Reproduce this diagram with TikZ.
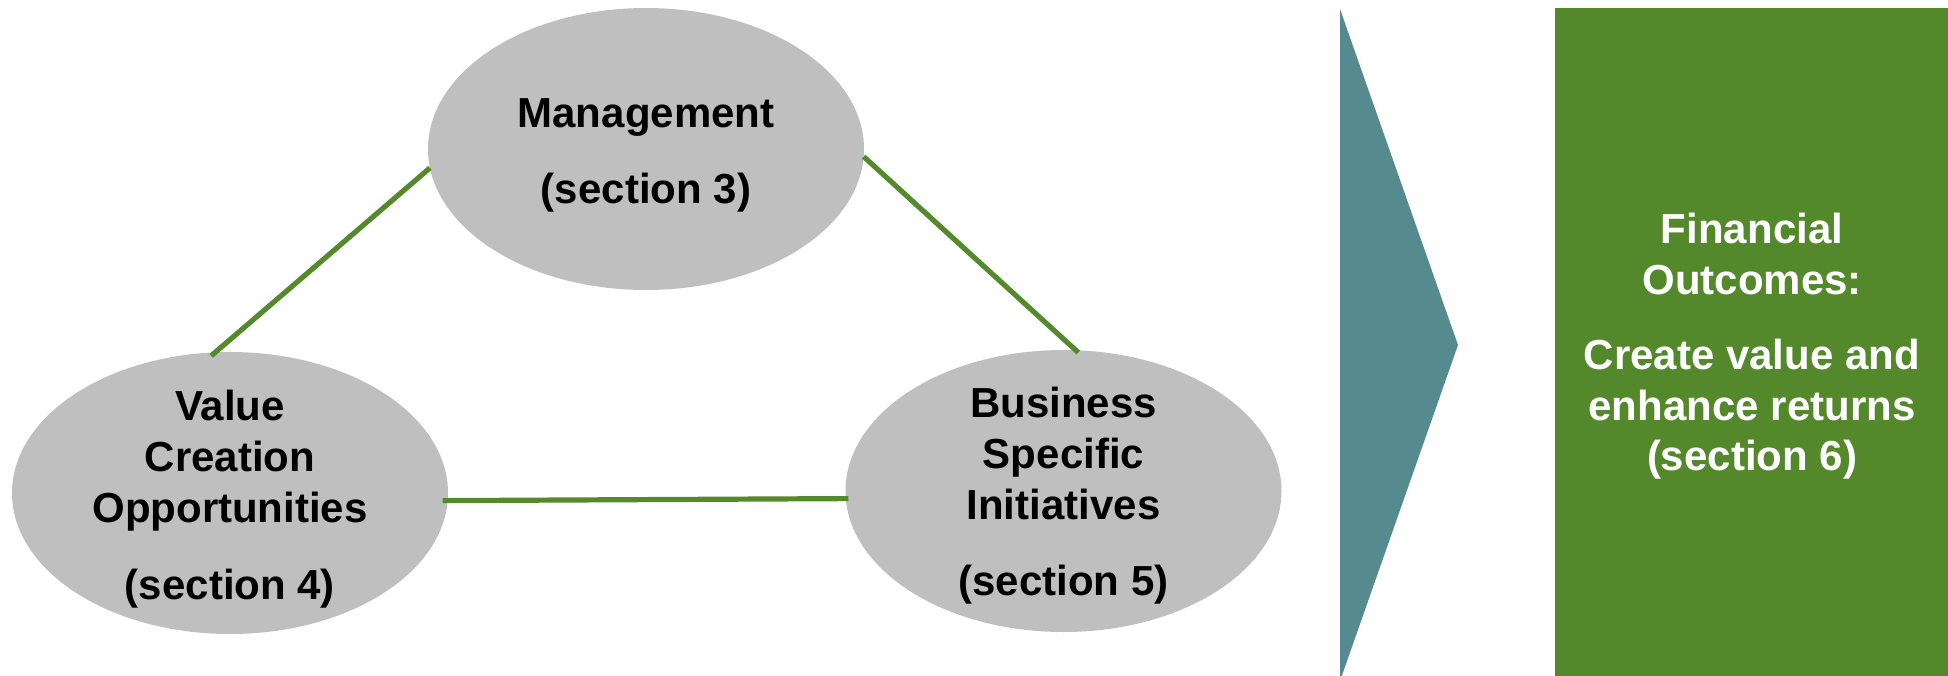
\documentclass[tikz,border=0pt]{standalone}
\usepackage{fontspec}
\setmainfont{Liberation Sans}
\usetikzlibrary{shapes.geometric}
\definecolor{ellgray}{RGB}{191,191,191}
\definecolor{linegreen}{RGB}{84,138,43}
\definecolor{boxgreen}{RGB}{83,137,43}
\definecolor{teal}{RGB}{85,139,142}
\tikzset{
  ell/.style={ellipse, fill=ellgray, draw=none, inner sep=0pt, outer sep=0pt,
              minimum width=218pt, minimum height=141pt},
  link/.style={draw=linegreen, line width=2.6pt},
  txt/.style={inner sep=0pt, anchor=base, text=black,
              font=\fontsize{21}{25}\selectfont\bfseries},
  wtxt/.style={txt, text=white}
}
\begin{document}
\begin{tikzpicture}[x=0.5pt,y=-0.5pt]
\useasboundingbox (0,0) rectangle (1948,675);
\clip (0,0) rectangle (1948,675);
% ellipses
\node[ell] (m) at (646,149) {};
\node[ell] (v) at (230,493) {};
\node[ell] (b) at (1063.5,491) {};
% connectors
\draw[link, shorten >=-2.7pt] (m.185.6) -- (v.96.6);
\draw[link, shorten >=-1.7pt] (m.358.2) -- (b.85.8);
\draw[link, shorten <=-2.5pt, shorten >=-1.3pt] (v.-2.3) -- (b.182.1);
% texts in ellipses
\node[txt] (m1) at (646,127) {Management};
\node[txt] (m2) at (646,203) {(section 3)};
\node[txt] (v1) at (230,420) {Value};
\node[txt] (v2) at (230,471) {Creation};
\node[txt] (v3) at (230,522) {Opportunities};
\node[txt] (v4) at (230,599) {(section 4)};
\node[txt] (b1) at (1063.5,417) {Business};
\node[txt] (b2) at (1063.5,468) {Specific};
\node[txt] (b3) at (1063.5,519) {Initiatives};
\node[txt] (b4) at (1063.5,595) {(section 5)};
% chevron
\fill[teal] (1340,9) -- (1458,345) -- (1340,681) -- cycle;
% outcome box
\fill[boxgreen] (1555,8) rectangle (1960,690);
\node[wtxt] (f1) at (1752,243.5) {Financial};
\node[wtxt] (f2) at (1752,294) {Outcomes:};
\node[wtxt] (f3) at (1752,369.5) {Create value and};
\node[wtxt] (f4) at (1752,420) {enhance returns};
\node[wtxt] (f5) at (1752,470) {(section 6)};
\end{tikzpicture}
\end{document}
